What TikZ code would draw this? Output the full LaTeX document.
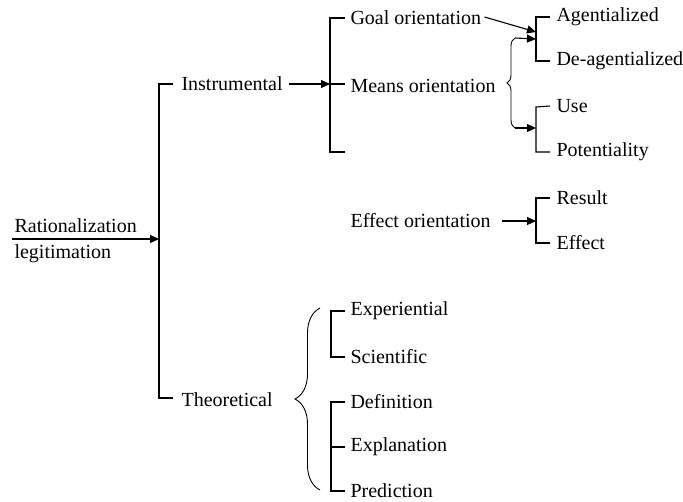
\documentclass[tikz,border=0pt]{standalone}
\usepackage{fontspec}
\setmainfont{Liberation Serif}
\usetikzlibrary{arrows.meta,decorations.pathreplacing}
\begin{document}
\begin{tikzpicture}[x=1pt,y=-1pt,line width=1.1pt,
  lbl/.style={anchor=west,inner sep=0pt,font=\fontsize{20}{24}\selectfont},
  arr/.style={-{Triangle[length=9pt,width=8pt]}},
  brc/.style={decorate,decoration={brace,amplitude=#1}}]
\useasboundingbox (0,0) rectangle (683,501);
% root
\node[lbl] (rat) at (14,226) {Rationalization};
\node[lbl] (leg) at (14,254) {legitimation};
\coordinate (r0) at (12,239);
\coordinate (b1) at (159,239);
\coordinate (b1t) at (159,84);
\coordinate (b1b) at (159,398);
\draw[arr] (r0) -- (b1);
\node[lbl] (ins) at (181,84) {Instrumental};
\node[lbl] (the) at (181,400) {Theoretical};
\draw ([xshift=-8pt]ins.west) -- (b1t) -- (b1b) -- ([xshift=-8pt,yshift=2pt]the.west);
% instrumental
\node[lbl] (goal) at (350,18) {Goal orientation};
\node[lbl] (mean) at (350,86) {Means orientation};
\node[lbl] (eff) at (350,221) {Effect orientation};
\coordinate (b2t) at (330,18);
\coordinate (b2m) at (330,84);
\coordinate (b2b) at (330,152);
\draw[arr] ([xshift=6pt]ins.east) -- (b2m);
\draw ([xshift=-5pt]goal.west) -- (b2t) -- (b2b) -- ++(15,0);
\draw (b2m) -- ++(15,0);
% agentialized
\node[lbl] (ag) at (556,17) {Agentialized};
\node[lbl] (dag) at (556,61) {De-agentialized};
\coordinate (b3t) at (536,17);
\coordinate (b3b) at (536,61);
\draw ([xshift=-6pt]ag.west) -- (b3t) -- (b3b) -- ([xshift=-6pt]dag.west);
\coordinate (b3a) at (536,32);
\coordinate (b3c) at (536,39);
\draw[arr] ([xshift=3pt,yshift=1pt]goal.east) -- (b3a);
% means brace
\coordinate (brt) at (515,38);
\coordinate (brb) at (515,128);
\draw[brc=8pt,line width=0.9pt] (brb) -- (brt);
\draw[arr] (brt) -- (b3c);
% use
\node[lbl] (use) at (556,106) {Use};
\node[lbl] (pot) at (556,152) {Potentiality};
\coordinate (b4t) at (536,107);
\coordinate (b4b) at (536,152);
\coordinate (b4c) at (536,128);
\draw ([xshift=-6pt]use.west) -- (b4t) -- (b4b) -- ([xshift=-6pt]pot.west);
\draw[arr] (brb) -- (b4c);
% effect
\node[lbl] (res) at (556,198) {Result};
\node[lbl] (efc) at (556,243) {Effect};
\coordinate (b5t) at (536,198);
\coordinate (b5b) at (536,243);
\coordinate (b5c) at (536,221);
\draw ([xshift=-6pt]res.west) -- (b5t) -- (b5b) -- ([xshift=-6pt]efc.west);
\draw[arr] ([xshift=11pt]eff.east) -- (b5c);
% theoretical
\coordinate (btt) at (320,308);
\coordinate (btb) at (320,490);
\draw[brc=25pt,line width=0.9pt] (btb) -- (btt);
\node[lbl] (exp) at (350,311) {Experiential};
\node[lbl] (sci) at (350,357) {Scientific};
\node[lbl] (def) at (350,402) {Definition};
\node[lbl] (expl) at (350,447) {Explanation};
\node[lbl] (pre) at (350,491) {Prediction};
\coordinate (b6t) at (331,311);
\coordinate (b6b) at (331,357);
\draw ([xshift=-5pt]exp.west) -- (b6t) -- (b6b) -- ([xshift=-5pt]sci.west);
\coordinate (b7t) at (331,402);
\coordinate (b7b) at (331,491);
\draw ([xshift=-5pt]def.west) -- (b7t) -- (b7b) -- ([xshift=-5pt]pre.west);
\draw ([xshift=-5pt]expl.west) -- (331,447);
\end{tikzpicture}
\end{document}
